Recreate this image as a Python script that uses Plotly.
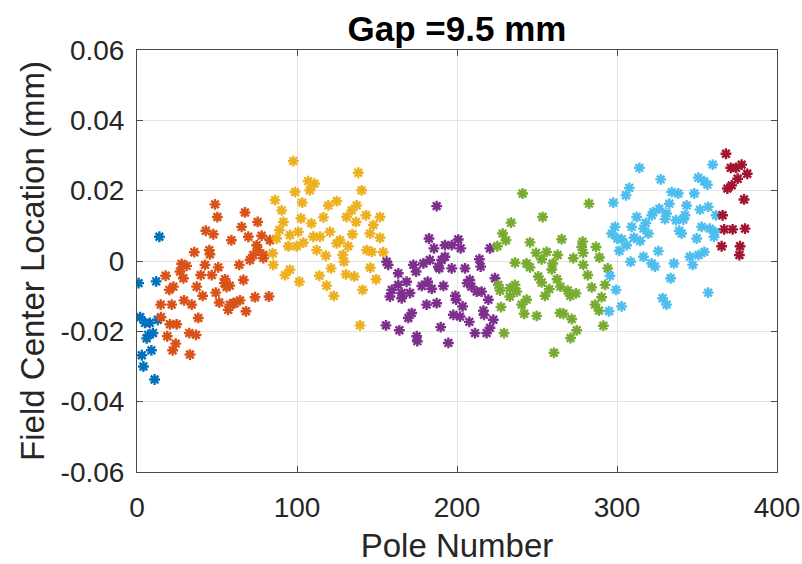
import plotly.graph_objects as go

# ---- data (pole number, field center location in mm) ----
blue_x = [1, 2, 3, 4, 5, 6, 7, 8, 9, 10, 11, 12, 13, 14]
blue_y = [-0.0063, -0.016, -0.0268, -0.030, -0.0176, -0.022, -0.021, -0.0176, -0.0254, -0.0205, -0.0337, -0.0058, -0.0167, 0.0069]

orange_x = [14.8, 15, 17.9, 18.9, 20.2, 20.6, 21.7, 22.3, 22.7, 24.2, 24.8, 26.9, 27.9, 29, 29.4, 31, 32.7, 33.1, 34.2, 35.8,
            36.9, 37.3, 38.3, 39.8, 41, 42.5, 43, 45.2, 45.6, 46.7, 47.7, 48.75, 49.2, 50.2, 50.8, 51.4, 54.6, 55, 56, 57,
            58, 58, 59, 60.2, 61, 63.9, 64.4, 65.4, 66.5, 67.5, 68.1, 69.6, 70.6, 72.7, 73.75, 74.8, 75.4, 75.8, 77.9, 79,
            79, 82.5, 83.1]
orange_y = [-0.0124, -0.016, -0.0042, -0.0214, -0.0082, -0.018, -0.0124, -0.0254, -0.0073, -0.0235, -0.018, -0.003, -0.0008, -0.0049, -0.0112, -0.0014, -0.0205, -0.0266, -0.0124, 0.0025,
            -0.021, -0.0073, -0.0162, -0.004, -0.0099, -0.0011, 0.0086, 0.0031, 0.0019, -0.004, 0.0076, 0.0161, -0.009, 0.0125, -0.0018, -0.0118, -0.0063, -0.0052, -0.0074, -0.0139,
            -0.0124, -0.007, 0.0059, -0.012, -0.012, -0.0011, -0.0112, 0.0097, -0.0054, 0.0138, -0.0143, 0.0069, 0.0003, 0.0017, -0.0103, 0.0045, 0.0111, 0.0031, 0.0072, 0.0017,
            0.0008, -0.0101, 0.0059]

yellow_x = [84.8, 85.2, 86.25, 87.3, 89, 90.4, 91.5, 92.5, 94.6, 95.6, 95.6, 97.7, 98.75, 99.8, 100.8, 101.5, 102.5, 103.3, 104, 107,
            108, 109, 110.2, 111, 112.3, 114, 114.4, 116.5, 118, 118.5, 119.6, 120.6, 121.25, 123, 124.8, 124.8, 126.9, 128.6, 129.4, 130.6,
            131, 132, 134.2, 134.6, 135.8, 136.9, 137.3, 138.3, 139.4, 140.4, 141, 143.1, 143.5, 145.6, 145.8, 146.7, 147.7, 149.4, 151.9, 151.9,
            153.9]
yellow_y = [0.0022, -0.0011, 0.0173, 0.0064, 0.0088, 0.0144, 0.0111, -0.004, 0.0042, 0.0074, -0.0025, 0.0284, 0.0196, 0.0042, 0.0083, -0.0059, 0.0121, 0.0166, 0.0052, 0.0227,
            0.0201, 0.0107, 0.0069, 0.022, 0.0031, -0.0042, 0.0069, 0.0124, 0.0015, -0.007, 0.0158, 0.0083, -0.0021, -0.0099, 0.017, 0.005, 0.0059, 0.0017, -0.0002, -0.0038,
            0.0125, 0.0042, 0.0144, 0.0076, -0.0044, 0.0111, 0.0158, 0.0251, -0.0183, 0.0201, -0.0082, 0.013, 0.0031, 0.0078, -0.0019, 0.0026, 0.0102, -0.0052, 0.0125, 0.0066,
            0.0025]

purple_x = [155.6, 156, 157, 158.1, 159.2, 163.3, 163.3, 164, 165.4, 165.4, 168.5, 169.6, 170.6, 171.7, 172.7, 174.4, 174.8, 175.2, 178, 179,
            181, 181.7, 182.5, 183, 184.2, 185.6, 187.3, 187.3, 188.3, 188.9, 189.8, 190.4, 191.5, 192.5, 192.5, 194.6, 196.7, 196.7, 197.7, 199,
            199.4, 200.8, 201.9, 202.3, 203.5, 205, 206.3, 207.7, 208, 209, 211.25, 212.3, 214, 214.8, 215.4, 216.5, 216.9, 218.5, 219.6, 220.6,
            220.6, 222.7, 223.75]
purple_y = [-0.0183, -0.0002, -0.0011, -0.0101, -0.0082, -0.0035, -0.0068, -0.0197, -0.0091, -0.0106, -0.0059, -0.0162, -0.0091, -0.0148, -0.0011, -0.003, -0.0214, -0.0228, -0.0071, -0.0007,
            -0.0124, -0.0059, 0.0064, 0.0003, -0.0079, 0.0036, 0.0156, -0.012, -0.0016, -0.0021, -0.0188, 0.0003, -0.0071, 0.0045, 0.0012, -0.0233, 0.0045, -0.0021, -0.0153, -0.0099,
            -0.011, 0.0061, -0.0158, 0.0036, -0.0129, -0.0021, -0.0063, -0.0173, -0.0054, -0.0073, -0.0205, -0.0087, 0.0005, -0.0016, -0.0087, -0.0141, -0.0153, -0.0205, -0.011, 0.0036,
            -0.019, -0.0167, -0.0049]

green_x = [225.2, 225.8, 226.9, 227.5, 228.5, 229.4, 230.6, 233, 233, 233.75, 236.25, 236.25, 237.3, 240.4, 241, 242, 243.5, 243.5, 245.6, 245.6,
           249.4, 249.8, 250.8, 252.9, 252.9, 253.5, 255, 256, 257.7, 259.2, 259.8, 260.6, 262.5, 262.9, 264.4, 264.6, 265.4, 266.5, 269.2, 270.8,
           271, 271.7, 272.7, 274.4, 274.8, 277.9, 278.5, 278.9, 278.9, 281.7, 282.5, 284.2, 286.25, 286.9, 288.75, 289, 290.4, 291.5, 292.5, 294.2]
green_y = [0.0042, -0.0068, -0.0084, -0.0131, 0.0078, -0.0205, 0.0059, -0.0077, -0.0101, 0.0109, -0.0005, -0.0068, -0.0087, -0.0124, 0.0192, -0.015, -0.0007, -0.011, 0.0053, -0.0018,
           0.0023, -0.0156, -0.0044, 0.0005, -0.0061, 0.0125, -0.0099, 0.0026, -0.008, -0.0024, -0.0007, -0.0261, -0.0052, 0.0017, -0.0148, -0.0073, 0.0062, -0.015, -0.0084, -0.0099,
           -0.0219, -0.0165, 0.0008, -0.0092, -0.0197, 0.004, 0.0055, 0.0023, -0.0011, -0.004, 0.0163, -0.0075, -0.0124, 0.004, -0.0141, 0.001, -0.0103, -0.0184, -0.0068, -0.0021]

cyan_x = [295, 295.6, 296.7, 297.7, 298.75, 299.4, 300.2, 301.5, 302.9, 302.9, 305.6, 306, 307.7, 308.5, 309.2, 310.6, 312.3, 314, 314.4, 316.5,
          316.5, 318, 319.6, 321.7, 321.7, 322.7, 323.75, 325.8, 326.4, 327.3, 328.5, 330, 331, 331, 332.7, 333.5, 334.2, 335.6, 336.9, 338.3,
          338.9, 340.4, 341.5, 342.5, 343.5, 345.6, 347.3, 348.3, 349.8, 350.8, 351, 351.9, 352.9, 354.4, 354.6, 356.5, 357, 357, 358, 359.8,
          360.6, 361.25, 361.9]
cyan_y = [-0.0143, -0.0042, 0.0078, 0.0166, 0.0097, -0.0082, 0.0064, 0.0029, -0.0129, 0.0062, 0.0187, 0.0045, 0.0208, -0.0002, 0.0097, 0.0066, 0.0125, 0.0265, 0.0057, 0.0092,
          0.0012, 0.0108, 0.0078, 0.013, -0.0007, 0.0139, -0.0016, 0.0028, 0.0149, 0.0232, -0.0106, 0.0119, 0.0135, -0.0124, 0.0163, -0.0049, 0.0196, -0.0007, 0.0116, 0.0192,
          0.0086, 0.0078, 0.0118, 0.013, 0.0158, 0.0012, -0.0011, 0.0192, 0.0064, 0.0237, 0.0017, 0.0146, 0.0097, 0.0227, 0.0026, 0.0217, 0.0154, -0.009, 0.0092, 0.0274,
          0.0069, 0.0083, 0.013]

red_x = [365.4, 366, 367, 368.1, 369, 371.1, 371.7, 372.3, 374.4, 375.4, 376.5, 376.9, 377.9, 379.4, 380, 381.4]
red_y = [0.0042, 0.013, 0.009, 0.0305, 0.0206, 0.0265, 0.0215, 0.009, 0.0265, 0.0234, 0.0017, 0.0042, 0.0274, 0.0175, 0.0092, 0.0248]

groups = [
    (blue_x, blue_y, "#0072BD"),
    (orange_x, orange_y, "#D95319"),
    (yellow_x, yellow_y, "#EDB120"),
    (purple_x, purple_y, "#7E2F8E"),
    (green_x, green_y, "#77AC30"),
    (cyan_x, cyan_y, "#4DBEEE"),
    (red_x, red_y, "#A2142F"),
]

x_ticks = [0, 100, 200, 300, 400]
y_ticks = [-0.06, -0.04, -0.02, 0, 0.02, 0.04, 0.06]
y_ticktext = ["-0.06", "-0.04", "-0.02", "0", "0.02", "0.04", "0.06"]

fig = go.Figure()
for xs, ys, col in groups:
    fig.add_trace(go.Scatter(
        x=xs, y=ys, mode="markers",
        marker=dict(symbol="asterisk-open", size=9, color=col,
                    line=dict(color=col, width=2.4)),
        showlegend=False, hoverinfo="skip"))

font_family = "Liberation Sans, Arial, sans-serif"
axis_common = dict(
    showline=True, linecolor="#4a4a4a", linewidth=1, mirror="ticks",
    ticks="inside", ticklen=6, tickcolor="#4a4a4a",
    showgrid=True, gridcolor="#e3e3e3", gridwidth=1,
    zeroline=False, automargin=False,
    tickfont=dict(family=font_family, size=28, color="#262626"),
)

fig.update_layout(
    width=802, height=564,
    margin=dict(l=137, r=25, t=50, b=92),
    paper_bgcolor="white", plot_bgcolor="white",
    title=dict(text="<b>Gap =9.5 mm</b>", x=(137 + 777) / 2 / 802, xanchor="center",
               y=1 - 29 / 564, yanchor="middle", xref="container", yref="container",
               font=dict(family=font_family, size=35, color="black")),
    xaxis=dict(range=[0, 400], tickvals=x_ticks, **axis_common,
               ticklabelstandoff=10,
               title=dict(text="Pole Number", standoff=13,
                          font=dict(family=font_family, size=33, color="#262626"))),
    yaxis=dict(range=[-0.06, 0.06], tickvals=y_ticks, ticktext=y_ticktext, **axis_common,
               ticklabelstandoff=6,
               title=dict(text="Field Center Location (mm)", standoff=6,
                          font=dict(family=font_family, size=33, color="#262626"))),
)

fig.write_html("out.html")
